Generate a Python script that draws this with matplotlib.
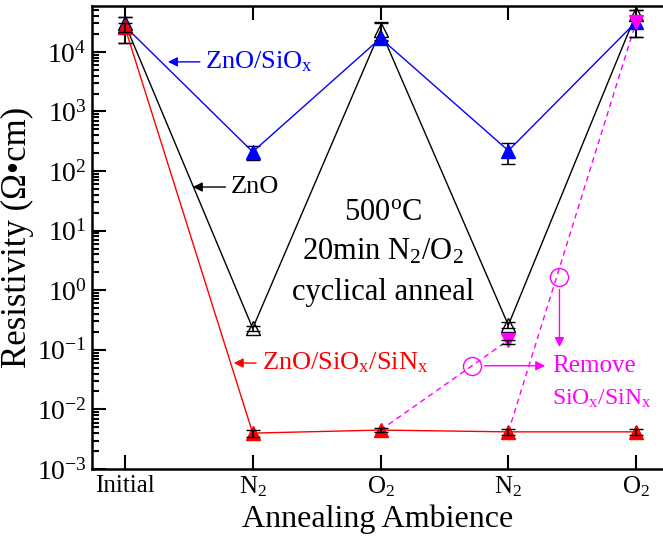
import matplotlib
matplotlib.use("Agg")
import matplotlib.pyplot as plt
import numpy as np

plt.rcParams['font.family'] = ['Liberation Serif', 'DejaVu Serif']
plt.rcParams['mathtext.fontset'] = 'custom'
plt.rcParams['mathtext.rm'] = 'Liberation Serif'
plt.rcParams['mathtext.it'] = 'Liberation Serif:italic'

# annealing steps
steps = ["Initial", r"N$_2$", r"O$_2$", r"N$_2$", r"O$_2$"]
x = np.arange(len(steps))

# resistivity (ohm cm)
zno = [3.0e4, 0.23, 2.3e4, 0.26, 4.4e4]
zno_lo = [1.4e4, 0.21, 1.6e4, 0.23, 1.8e4]
zno_hi = [3.8e4, 0.25, 3.2e4, 0.29, 5.0e4]

zno_siox = [2.7e4, 210, 1.7e4, 220, 3.2e4]
siox_lo = [1.4e4, 152, 1.5e4, 133, 1.8e4]
siox_hi = [3.8e4, 263, 3.0e4, 297, 5.0e4]

zno_sin = [2.6e4, 0.0040, 0.0045, 0.0042, 0.0042]
sin_lo = [2.2e4, 0.0035, 0.0041, 0.0037, 0.0037]
sin_hi = [3.0e4, 0.0045, 0.0049, 0.0047, 0.0047]

# after removing the SiOx/SiNx cap
rm1_x, rm1_y = [2, 3], [0.0045, 0.145]
rm2_x, rm2_y = [3, 4], [0.0042, 3.2e4]

fig = plt.figure(figsize=(6.63, 5.43), dpi=100)
ax = fig.add_axes([0.139, 0.1363, 0.861, 0.8527])

def errs(v, lo, hi):
    v = np.array(v)
    return [v - np.array(lo), np.array(hi) - v]

ax.errorbar(x, zno, yerr=errs(zno, zno_lo, zno_hi), color='black', lw=1,
            marker='^', ms=10, mfc='none', mec='black', ecolor='black',
            elinewidth=1.2, capsize=5, zorder=3)
ax.errorbar(x, zno_siox, yerr=errs(zno_siox, siox_lo, siox_hi), color='blue', lw=1,
            marker='^', ms=10, mfc='blue', mec='blue', ecolor='black',
            elinewidth=1.2, capsize=5, zorder=4)
ax.plot(x, zno_sin, color='red', lw=1, marker='^', ms=10, mfc='red', mec='red', zorder=5)
ax.errorbar(x, zno_sin, yerr=errs(zno_sin, sin_lo, sin_hi), fmt='none',
            ecolor='black', elinewidth=1.2, capsize=5, zorder=6)

ax.plot(rm1_x, rm1_y, color='magenta', lw=1, ls=(0, (4, 3)), zorder=2)
ax.plot(rm2_x, rm2_y, color='magenta', lw=1, ls=(0, (4, 3)), zorder=2)
ax.plot([rm1_x[1], rm2_x[1]], [rm1_y[1], rm2_y[1]], ls='none', marker='v', ms=10,
        mfc='magenta', mec='magenta', zorder=5)
ax.errorbar([3], [0.145], yerr=[[0.02], [0.0]], fmt='none', ecolor='black',
            elinewidth=1.2, capsize=5, zorder=6)

ax.set_yscale('log')
ax.set_ylim(1e-3, 5.9e4)
ax.set_xlim(-0.256, 4.21)
ax.set_xticks(x)
ax.set_xticklabels(steps, fontsize=18)
ax.set_yticks([10.0 ** k for k in range(-3, 5)])
ax.set_yticklabels([r'$10^{%d}$' % k for k in range(-3, 5)], fontsize=20)
ax.tick_params(which='both', direction='in', top=True, right=False, width=1.5)
ax.tick_params(which='major', length=10, pad=4)
ax.tick_params(which='minor', length=5)
ax.tick_params(axis='x', which='minor', top=False, bottom=False)
ax.spines['right'].set_visible(False)
for s in ['left', 'bottom', 'top']:
    ax.spines[s].set_linewidth(1.8)

ax.set_xlabel('Annealing Ambience', fontsize=23, labelpad=4)
ax.set_ylabel('Resistivity (Ω•cm)', fontsize=25, labelpad=2)

arrow = dict(arrowstyle='-|>', lw=1, mutation_scale=14)
ax.annotate(r'ZnO/SiO$_\mathrm{x}$', xy=(0.315, 6.8e3), xytext=(0.63, 6.8e3),
            color='blue', fontsize=19, va='center',
            arrowprops=dict(arrow, color='blue'))
ax.annotate('ZnO', xy=(0.51, 54), xytext=(0.83, 54), color='black', fontsize=19,
            va='center', arrowprops=dict(arrow, color='black'))
ax.annotate(r'ZnO/SiO$_\mathrm{x}$/SiN$_\mathrm{x}$', xy=(0.83, 0.06), xytext=(1.07, 0.06),
            color='red', fontsize=19, va='center',
            arrowprops=dict(arrow, color='red'))

ax.text(2.02, 20, r'500$^\mathrm{o}$C', fontsize=22, ha='center', va='center')
ax.text(2.02, 4.5, r'20min N$_2$/O$_2$', fontsize=22, ha='center', va='center')
ax.text(2.02, 0.9, 'cyclical anneal', fontsize=22, ha='center', va='center')

# markers on the dashed lines pointing to the removal label
for cx, cy in [(2.716, 0.054), (3.40, 1.7)]:
    ax.plot(cx, cy, marker='o', ms=13, mfc='none', mec='magenta', mew=1, zorder=7)
ax.annotate('', xy=(3.31, 0.054), xytext=(2.79, 0.054),
            arrowprops=dict(arrow, color='magenta'))
ax.annotate('', xy=(3.40, 0.1), xytext=(3.40, 1.15),
            arrowprops=dict(arrow, color='magenta'))
ax.text(3.34, 0.054, 'Remove', color='magenta', fontsize=18, va='center')
ax.text(3.34, 0.015, r'SiO$_\mathrm{x}$/SiN$_\mathrm{x}$', color='magenta', fontsize=17,
        va='center')

fig.savefig('out.png', dpi=100)
